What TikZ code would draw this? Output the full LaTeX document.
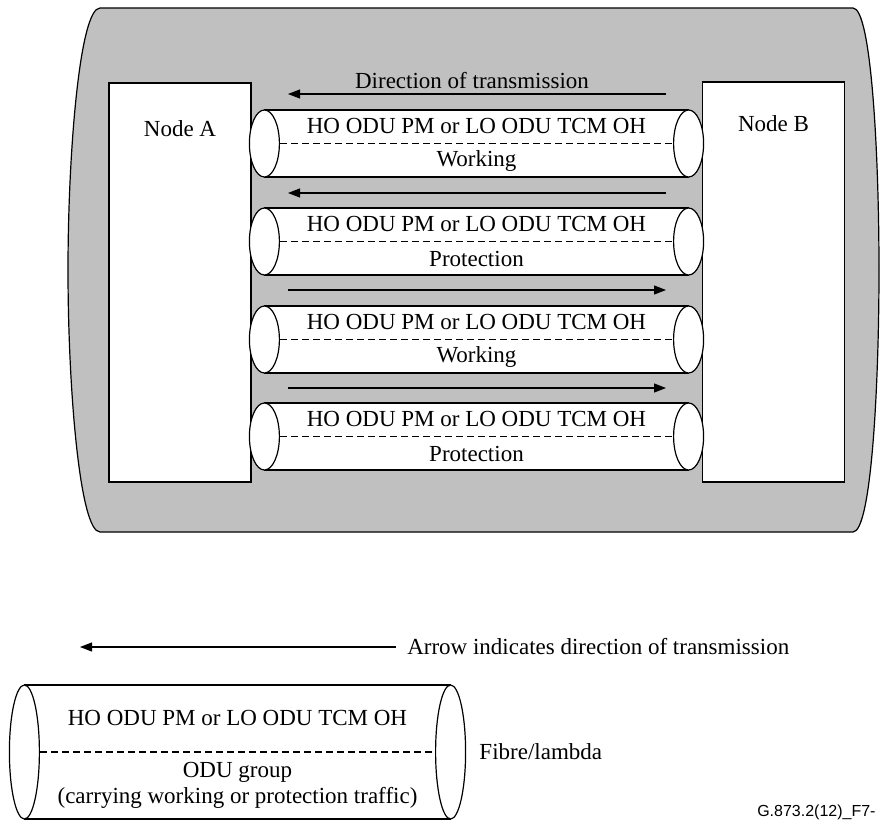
\documentclass[tikz,border=0pt]{standalone}
\usepackage{fontspec}
\setmainfont{Liberation Serif}
\newfontfamily\figfont{Liberation Sans}
\usepackage{xcolor}
\usepackage{tikz}
\usetikzlibrary{positioning,shapes,calc,arrows.meta}
\definecolor{shade}{RGB}{192,192,192}
\newcommand{\fibre}[6]{%
  \node[fibre body,minimum width=#3,minimum height=#4] (#1) at #2 {};
  \node[fibre end,minimum height=#4] (#1l) at (#1.west) {};
  \node[fibre end,minimum height=#4] (#1r) at (#1.east) {};
  \draw[dashed line] (#1l.east) -- (#1r.west);
  \node (#1t) at ($(#1.north)!.5!(#1.center)$) {#5};
  \node[align=center] (#1b) at ($(#1.south)!.5!(#1.center)$) {#6};
}

\begin{document}
\begin{tikzpicture}[x=0.5pt,y=-0.5pt,line width=0.6pt,>={Triangle[length=6pt,width=4.5pt]},
            font=\fontsize{11.5}{13}\selectfont,
            fibre body/.style={draw,fill=white,inner sep=0pt},
            fibre end/.style={ellipse,draw,fill=white,inner sep=0pt,minimum width=15pt},
            node box/.style={draw,fill=white,inner sep=0pt,minimum width=71pt},
            dashed line/.style={dash pattern=on 3.5pt off 2pt}]

            \useasboundingbox (0,0) rectangle (880,820);
            \draw[fill=shade] (100,8) -- (853,8) .. controls (871,8) and (879,150) .. (879,270)
              .. controls (879,390) and (871,532) .. (853,532) -- (100,532)
              .. controls (80,532) and (68,390) .. (68,270) .. controls (68,150) and (80,8) .. (100,8) -- cycle;

            \node[node box,minimum height=199.5pt] (A) at (180,282.5) {};
            \node[node box,minimum height=200pt] (B) at (773.5,282) {};
            \node (An) at (180,129) {Node A};
            \node (Bn) at (773.5,124) {Node B};

            \fibre{w1}{(476.5,143.5)}{211.5pt}{33.5pt}{HO ODU PM or LO ODU TCM OH}{Working}
            \fibre{p1}{(476.5,241.5)}{211.5pt}{33.5pt}{HO ODU PM or LO ODU TCM OH}{Protection}
            \fibre{w2}{(476.5,339.5)}{211.5pt}{33.5pt}{HO ODU PM or LO ODU TCM OH}{Working}
            \fibre{p2}{(476.5,436.5)}{211.5pt}{33.5pt}{HO ODU PM or LO ODU TCM OH}{Protection}

            \coordinate (w1a) at (666,94); \coordinate (w1b) at (288,94);
            \coordinate (p1a) at (666,193); \coordinate (p1b) at (288,193);
            \coordinate (w2a) at (288,290); \coordinate (w2b) at (666,290);
            \coordinate (p2a) at (288,388); \coordinate (p2b) at (666,388);
            \draw[->] (w1a) -- (w1b);
            \draw[->] (p1a) -- (p1b);
            \draw[->] (w2a) -- (w2b);
            \draw[->] (p2a) -- (p2b);
            \node (dir) at (472,81) {Direction of transmission};

            \coordinate (ka) at (396,647); \coordinate (kb) at (80,647);
            \draw[->] (ka) -- (kb);
            \node (key) [right=2pt of ka] {Arrow indicates direction of transmission};
            \fibre{g}{(237.5,752)}{212.5pt}{67pt}{HO ODU PM or LO ODU TCM OH}{ODU group\\(carrying working or protection traffic)}
            \node (fl) [right=3pt of gr] {Fibre/lambda};
            \node[font=\figfont\fontsize{8}{9}\selectfont,anchor=west] (id) at (750,812) {G.873.2(12)\_F7-};
          \end{tikzpicture}
\end{document}
